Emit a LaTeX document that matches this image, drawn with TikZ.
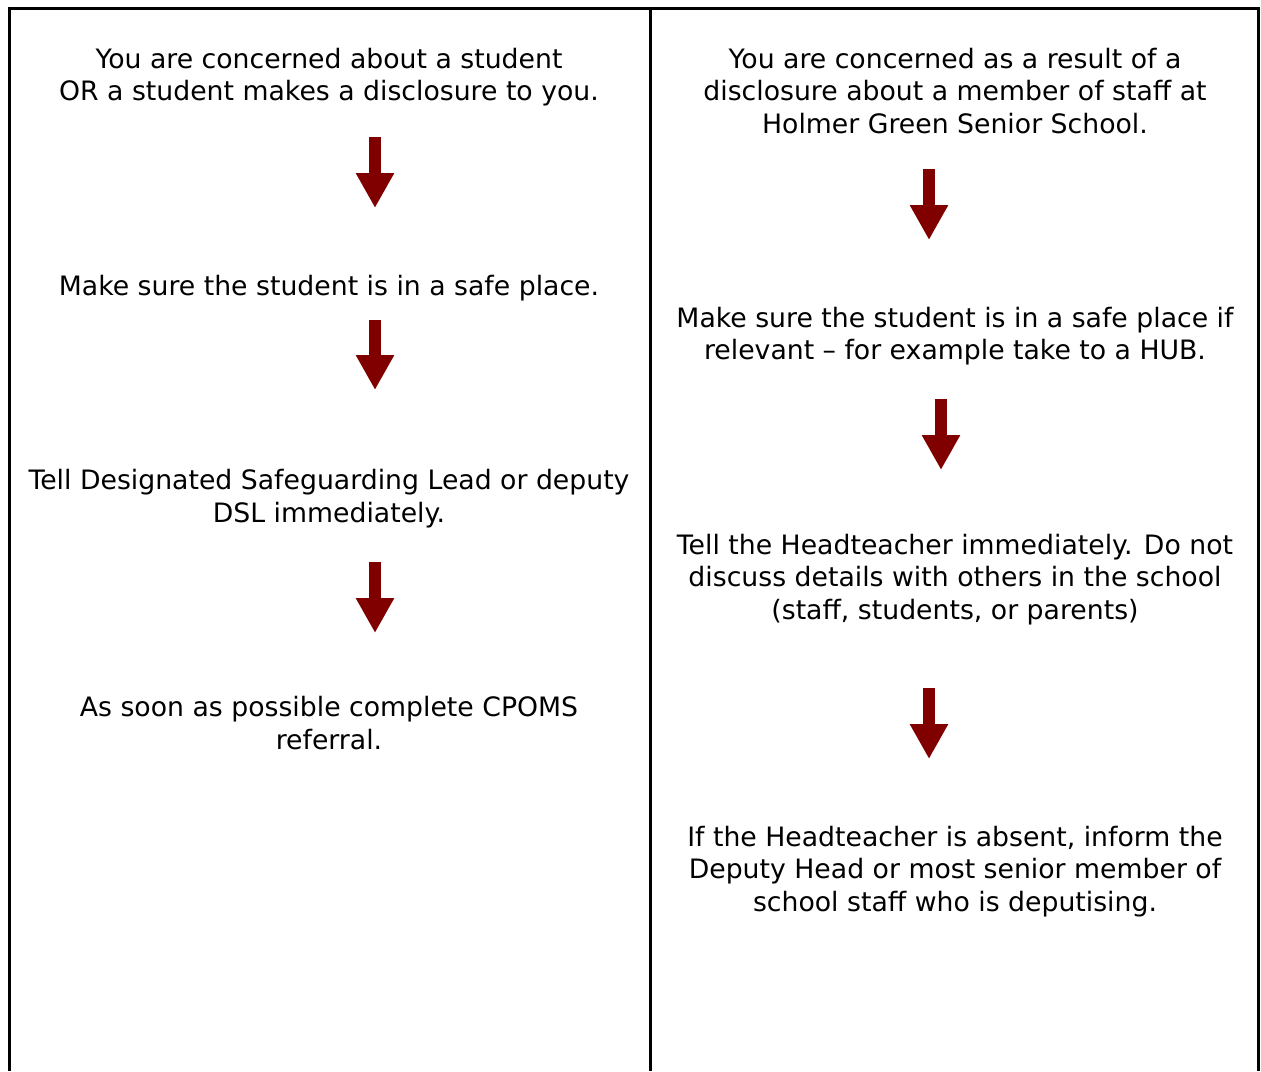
\documentclass[tikz,border=0pt]{standalone}
\usepackage{fontspec}
\setmainfont{DejaVu Sans}
\usetikzlibrary{arrows.meta}
\definecolor{arrowred}{RGB}{128,0,0}
\begin{document}
\begin{tikzpicture}[x=1pt,y=-1pt,
  txt/.style={align=center,inner sep=0pt,font=\fontsize{26.7}{32.6}\selectfont},
  blockarrow/.style={draw=arrowred,line width=12pt,-{Triangle[width=36pt,length=35pt,fill=arrowred]}},
  frame/.style={line width=3pt,black}]
\useasboundingbox (0,0) rectangle (1261,1071);
\draw[frame] (9,1071) -- (9,8.5) -- (1258,8.5) -- (1258,1071);
\draw[frame] (650,8.5) -- (650,1071);
% left column
\node[txt] (l1) at (329,77) {You are concerned about a student\\OR a student makes a disclosure to you.};
\node[txt] (l2) at (329,288) {Make sure the student is in a safe place.};
\node[txt] (l3) at (329,498.5) {Tell Designated Safeguarding Lead or deputy\\DSL immediately.};
\node[txt] (l4) at (329,723) {As soon as possible complete CPOMS\\referral.};
\coordinate (la1s) at (375,137); \coordinate (la1e) at (375,208);
\coordinate (la2s) at (375,320); \coordinate (la2e) at (375,390);
\coordinate (la3s) at (375,562); \coordinate (la3e) at (375,633);
\draw[blockarrow] (la1s) -- (la1e);
\draw[blockarrow] (la2s) -- (la2e);
\draw[blockarrow] (la3s) -- (la3e);
% right column
\node[txt] (r1) at (955,91) {You are concerned as a result of a\\disclosure about a member of staff at\\Holmer Green Senior School.};
\node[txt] (r2) at (955,336) {Make sure the student is in a safe place if\\relevant -- for example take to a HUB.};
\node[txt] (r3) at (955,579.5) {Tell the Headteacher immediately. Do not\\discuss details with others in the school\\(staff, students, or parents)};
\node[txt] (r4) at (955,871.5) {If the Headteacher is absent, inform the\\Deputy Head or most senior member of\\school staff who is deputising.};
\coordinate (ra1s) at (929,169); \coordinate (ra1e) at (929,240);
\coordinate (ra2s) at (941,399); \coordinate (ra2e) at (941,470);
\coordinate (ra3s) at (929,688); \coordinate (ra3e) at (929,759);
\draw[blockarrow] (ra1s) -- (ra1e);
\draw[blockarrow] (ra2s) -- (ra2e);
\draw[blockarrow] (ra3s) -- (ra3e);
\end{tikzpicture}
\end{document}
